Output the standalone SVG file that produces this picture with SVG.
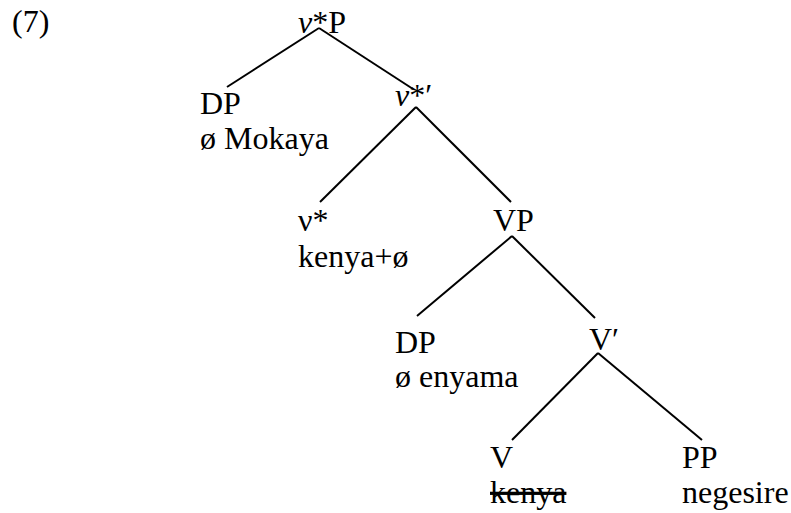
<svg xmlns="http://www.w3.org/2000/svg" width="791" height="513" viewBox="0 0 791 513">
  <style>
    .lbl { font-family: 'Liberation Serif', 'Times New Roman', Times, serif; font-size: 32px; fill: #000; }
    .it { font-style: italic; }
    .strike { text-decoration: line-through; }
    .edges line { stroke: #000; stroke-width: 2; stroke-linecap: butt; }
  </style>
  <rect width="791" height="513" fill="#fff"/>

  <g class="lbl" font-family="Liberation Serif, Times New Roman, serif" font-size="32">
    <text id="ex-num" x="12" y="32">(7)</text>
  </g>

  <!-- branches -->
  <g class="edges" id="connectors">
    <line x1="319" y1="28" x2="227" y2="87"/>
    <line x1="319" y1="28" x2="413" y2="89"/>
    <line x1="416" y1="107" x2="320" y2="202"/>
    <line x1="416" y1="107" x2="511" y2="202"/>
    <line x1="512" y1="236" x2="417" y2="316"/>
    <line x1="512" y1="236" x2="595" y2="318"/>
    <line x1="598" y1="353" x2="512" y2="440"/>
    <line x1="598" y1="353" x2="702" y2="440"/>
  </g>

  <!-- nodes -->
  <g class="lbl" font-family="Liberation Serif, Times New Roman, serif" font-size="32">
    <g id="vstarP"><text x="298" y="33"><tspan class="it">ν</tspan>*P</text></g>
    <g id="dp-subj"><text x="200" y="114">DP</text><text x="200" y="149">ø Mokaya</text></g>
    <g id="vstar-bar"><text x="395" y="106"><tspan class="it">ν</tspan>*′</text></g>
    <g id="vstar"><text x="298" y="231">ν*</text><text x="298" y="267">kenya+ø</text></g>
    <g id="vp"><text x="493" y="231">VP</text></g>
    <g id="dp-obj"><text x="395" y="353">DP</text><text x="395" y="387">ø enyama</text></g>
    <g id="v-bar"><text x="589" y="350">V′</text></g>
    <g id="v"><text x="490" y="468">V</text><text class="strike" x="490" y="503">kenya</text></g>
    <g id="pp"><text x="682" y="468">PP</text><text x="682" y="503">negesire</text></g>
  </g>
</svg>
